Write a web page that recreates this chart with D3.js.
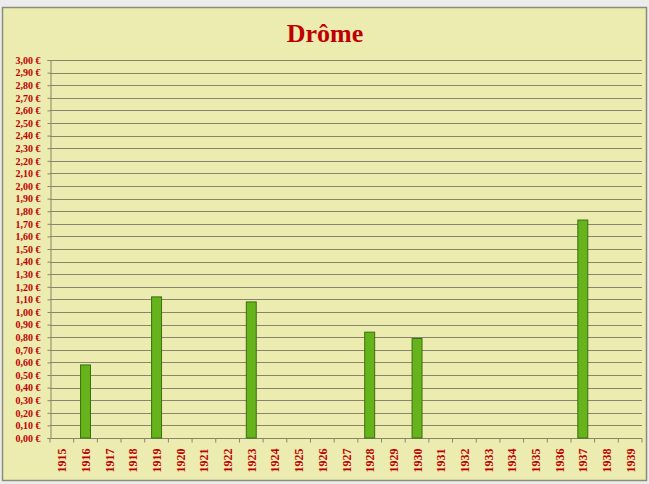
<!DOCTYPE html>
<html>
<head>
<meta charset="utf-8">
<script src="https://cdn.jsdelivr.net/npm/d3@7"></script>
<style>
	body { margin: 0; background: #ececec; }
	svg { display: block; }
	text { font-family: 'Liberation Serif', 'DejaVu Serif', serif; font-weight: bold; fill: #c00000; }
</style>
</head>
<body>
<div class="graphic"></div>
<script>
const years = d3.range(1915, 1940).map(String)
const prices = [
	['1916', 0.58],
	['1919', 1.12],
	['1923', 1.08],
	['1928', 0.84],
	['1930', 0.79],
	['1937', 1.73],
]
const yTicks = d3.range(0, 31).map(d => d / 10)

const width = 649
const height = 484
const plot = { left: 50, right: 642, top: 60, bottom: 438 }

const svg = d3.select('.graphic').append('svg')
	.attr('width', width)
	.attr('height', height)

// panel
svg.append('rect')
	.attr('x', 2.5).attr('y', 7.5)
	.attr('width', 644).attr('height', 473)
	.attr('fill', '#ecebb0')
	.attr('stroke', '#8c8c78')
	.attr('stroke-width', 1.5)

svg.append('text')
	.attr('x', 325).attr('y', 42)
	.attr('text-anchor', 'middle')
	.style('font-size', '26px')
	.text('Drôme')

const x = d3.scaleBand()
	.domain(years)
	.range([plot.left, plot.right])
	.paddingInner(0.58)
	.paddingOuter(0.29)

const xEdge = d3.scaleLinear()
	.domain([0, years.length])
	.range([plot.left, plot.right])

const y = d3.scaleLinear()
	.domain([0, 3])
	.range([plot.bottom, plot.top])

const fmt = v => d3.format('.2f')(v).replace('.', ',') + ' €'

// gridlines
svg.append('g')
	.selectAll('line')
	.data(yTicks.slice(1))
	.join('line')
		.attr('x1', plot.left).attr('x2', plot.right)
		.attr('y1', d => Math.round(y(d)) + 0.5)
		.attr('y2', d => Math.round(y(d)) + 0.5)
		.attr('stroke', '#86866a')
		.attr('stroke-width', 1.2)

// y axis
const yAxis = svg.append('g')
	.attr('transform', `translate(${plot.left + 0.5},0)`)
	.call(d3.axisLeft(y).tickValues(yTicks).tickFormat(fmt).tickSize(3).tickPadding(7))
yAxis.select('.domain').attr('stroke', '#86866a')
yAxis.selectAll('.tick line').attr('stroke', '#86866a')
yAxis.selectAll('text').style('font-size', '10px').attr('fill', '#c00000')

// x axis
const xAxis = svg.append('g')
	.attr('transform', `translate(0,${plot.bottom + 0.5})`)
xAxis.append('line')
	.attr('x1', plot.left).attr('x2', plot.right)
	.attr('stroke', '#86866a')
xAxis.selectAll('.edge')
	.data(d3.range(0, years.length + 1))
	.join('line')
		.attr('class', 'edge')
		.attr('x1', d => xEdge(d)).attr('x2', d => xEdge(d))
		.attr('y1', 0).attr('y2', 4)
		.attr('stroke', '#86866a')
xAxis.selectAll('.lbl')
	.data(years)
	.join('text')
		.attr('class', 'lbl')
		.attr('transform', d => `translate(${x(d) + x.bandwidth() / 2 + 4.5},10) rotate(-90)`)
		.attr('text-anchor', 'end')
		.style('font-size', '12px')
		.text(d => d)

// bars
svg.append('g')
	.selectAll('rect')
	.data(prices)
	.join('rect')
		.attr('x', d => x(d[0]))
		.attr('y', d => y(d[1]))
		.attr('width', x.bandwidth())
		.attr('height', d => y(0) - y(d[1]))
		.attr('fill', '#66b31c')
		.attr('stroke', '#3a7010')
		.attr('stroke-width', 1)
</script>
</body>
</html>
